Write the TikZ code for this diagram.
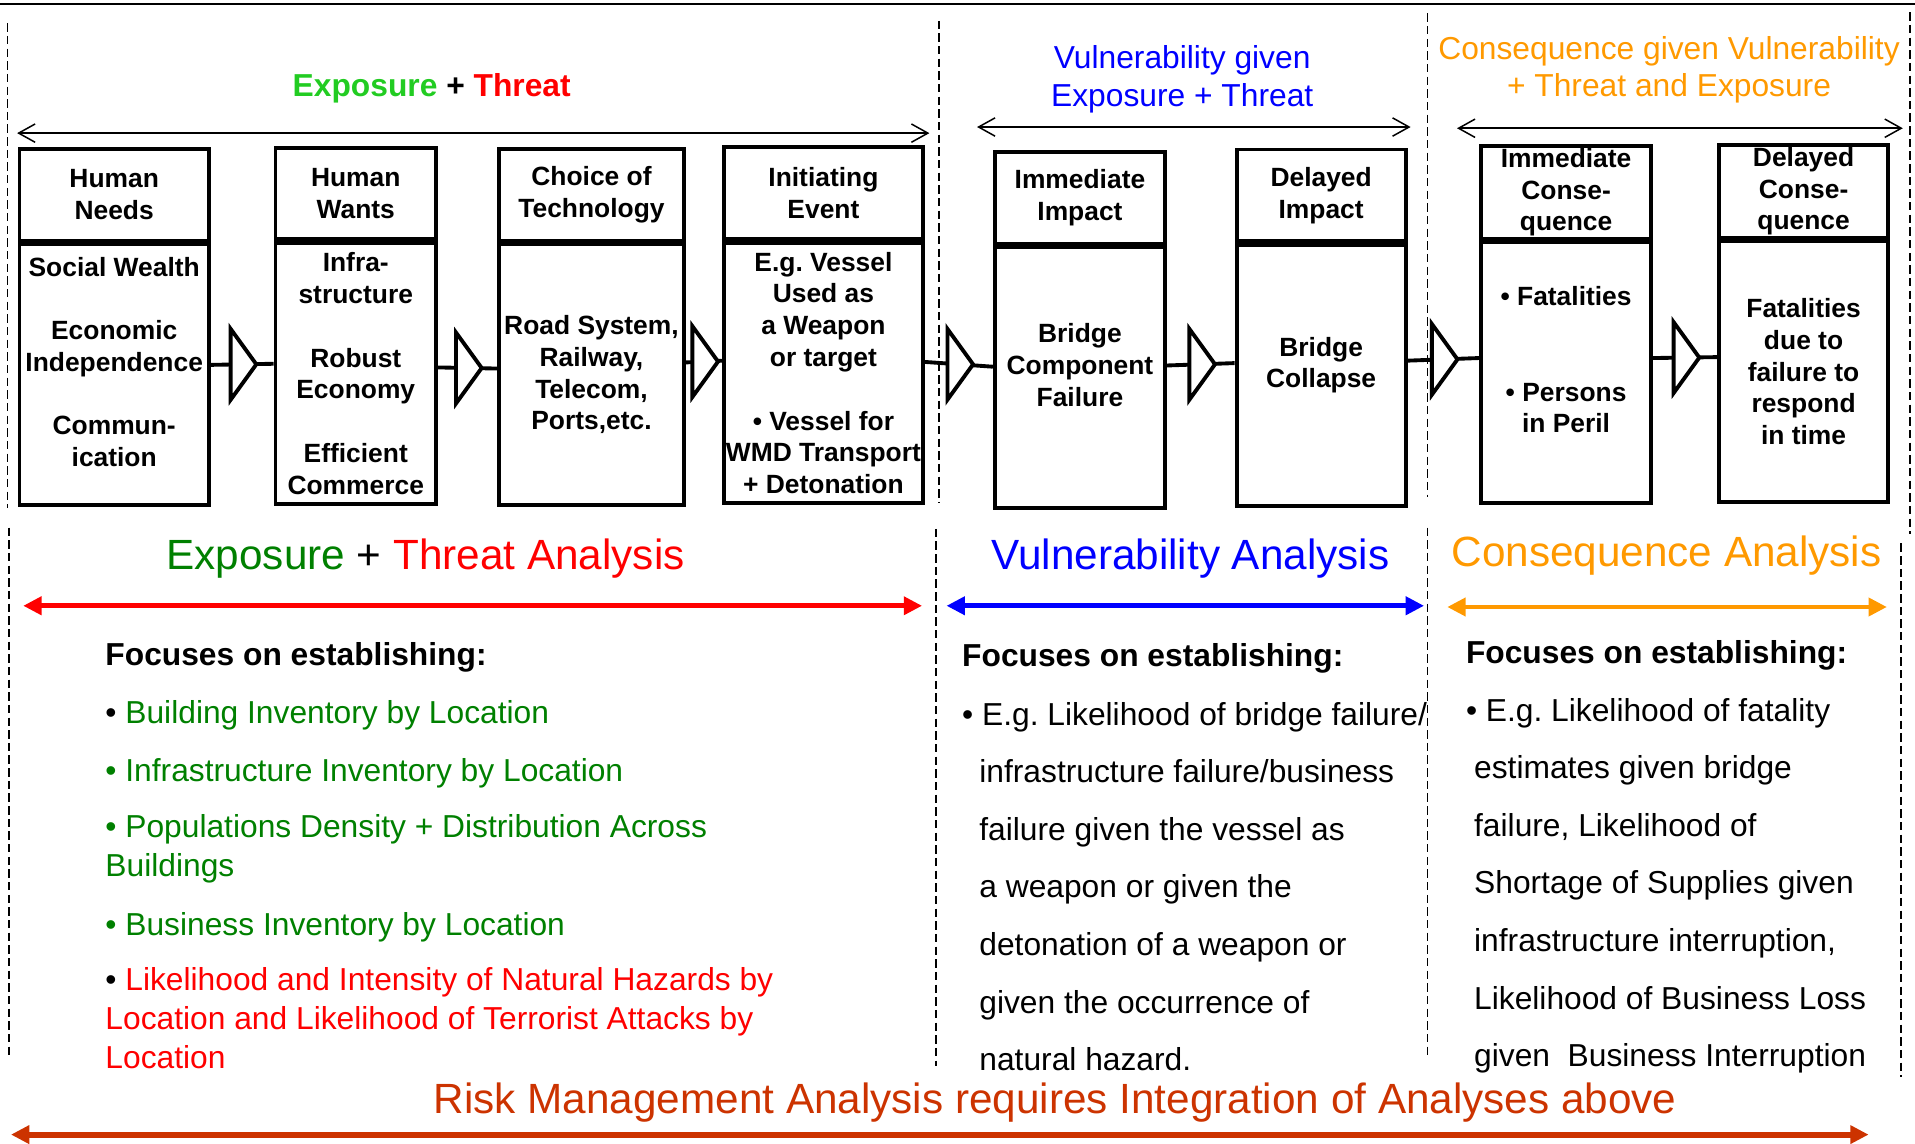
\documentclass[tikz,border=0pt]{standalone}
\usepackage{fontspec}
\setmainfont{Liberation Sans}
\usetikzlibrary{positioning,shapes.geometric,arrows.meta}

\definecolor{expgreen}{RGB}{34,204,34}
\definecolor{darkgreen}{RGB}{0,128,0}
\definecolor{thrred}{RGB}{255,0,0}
\definecolor{vulblue}{RGB}{0,0,255}
\definecolor{conorange}{RGB}{255,153,0}
\definecolor{riskred}{RGB}{204,51,0}

\tikzset{
	boxfont/.style={font=\fontsize{12.3}{14.8}\selectfont\bfseries},
	body/.style={draw=black, line width=1.8pt, boxfont, align=center, inner sep=1pt, minimum height=4.27cm},
	head/.style={draw=black, line width=1.8pt, boxfont, align=center, inner sep=1pt, minimum height=1.5cm},
	raised/.style={text depth=12pt},
	tri/.style={isosceles triangle, isosceles triangle stretches, draw=black, fill=white, line width=1.8pt, inner sep=0pt, minimum width=1.16cm, minimum height=0.42cm},
	link/.style={-, line width=1.8pt},
	divider/.style={dash pattern=on 3.9pt off 2pt, line width=0.7pt},
	span/.style={{Straight Barb[length=2.7mm,width=3mm]}-{Straight Barb[length=2.7mm,width=3mm]}, line width=0.7pt},
	bigspan/.style={{Triangle[length=3mm,width=2.9mm]}-{Triangle[length=3mm,width=2.9mm]}, line width=2.3pt},
	title/.style={font=\fontsize{14.8}{17.8}\selectfont, align=center, anchor=base},
	bigtitle/.style={font=\fontsize{19.7}{23}\selectfont, anchor=base},
	notes/.style={font=\fontsize{14.8}{18.2}\selectfont, align=left, anchor=base west, inner sep=0pt},
}

\begin{document}
\frenchspacing
\begin{tikzpicture}[x=0.02cm, y=-0.02cm]
	\useasboundingbox (0,0) rectangle (1568,936.7);
	
	% frame and column separators
	\draw[line width=1pt] (0,3) -- (1568,3);
	\draw[divider] (6,19) -- (6,416);
	\draw[divider] (7.5,432) -- (7.5,866);
	\draw[divider] (769,17) -- (769,412);
	\draw[divider] (766.5,433) -- (766.5,873);
	\draw[divider] (1169,11) -- (1169,407);
	\draw[divider] (1169,432) -- (1169,864);
	\draw[divider] (1564,10) -- (1564,437);
	\draw[divider] (1556.5,445) -- (1556.5,882);
	
	% top titles (multi-line nodes sit on their last baseline)
	\node[title, font=\fontsize{14.8}{17.8}\selectfont\bfseries] (expTop) at (353.5,79.2) {\textcolor{expgreen}{Exposure} + \textcolor{thrred}{Threat}};
	\node[title, text=vulblue, font=\fontsize{14.8}{17.8}\selectfont] (vulTop) at (968,87.3) {Vulnerability given\\Exposure + Threat};
	\node[title, text=conorange, font=\fontsize{14.8}{17.2}\selectfont] (conTop) at (1366.6,79.2) {Consequence given Vulnerability\\+ Threat and Exposure};
	
	\draw[span] (14,109) -- (761,109);
	\draw[span] (800,104) -- (1155,104);
	\draw[span] (1193,105) -- (1558,105);
	
	% boxes
	\node[body, raised, minimum width=3.1cm] (needsB) at (93.5,306.75) {Social Wealth\\ \\Economic\\Independence\\ \\Commun-\\ication};
	\node[head, minimum width=3.1cm, above=0pt of needsB] (needsH) {Human\\Needs};
	
	\node[body, minimum width=2.63cm] (wantsB) at (291.3,305.85) {Infra-\\structure\\ \\Robust\\Economy\\ \\Efficient\\Commerce};
	\node[head, minimum width=2.63cm, above=0pt of wantsB] (wantsH) {Human\\Wants};
	
	\node[body, minimum width=3.03cm] (techB) at (484.3,306.75) {Road System,\\Railway,\\Telecom,\\Ports,etc.};
	\node[head, minimum width=3.03cm, above=0pt of techB] (techH) {Choice of\\Technology};
	
	\node[body, minimum width=3.26cm] (initB) at (674.2,305.35) {E.g. Vessel\\Used as\\a Weapon\\or target\\ \\\textbullet{} Vessel for\\WMD Transport\\+ Detonation};
	\node[head, minimum width=3.26cm, above=0pt of initB] (initH) {Initiating\\Event};
	
	\node[body, raised, minimum width=2.79cm] (immImpB) at (884.25,309.25) {Bridge\\Component\\Failure};
	\node[head, minimum width=2.79cm, above=0pt of immImpB] (immImpH) {Immediate\\Impact};
	
	\node[body, raised, minimum width=2.77cm] (delImpB) at (1081.75,307.3) {Bridge\\Collapse};
	\node[head, minimum width=2.77cm, above=0pt of delImpB] (delImpH) {Delayed\\Impact};
	
	\node[body, raised, minimum width=2.79cm] (immConB) at (1282.3,305.15) {\textbullet{} Fatalities\\ \\ \\\textbullet{} Persons\\in Peril};
	\node[head, minimum width=2.79cm, above=0pt of immConB] (immConH) {Immediate\\Conse-\\quence};
	
	\node[body, minimum width=2.77cm] (delConB) at (1476.75,304.4) {Fatalities\\due to\\failure to\\respond\\in time};
	\node[head, minimum width=2.77cm, above=0pt of delConB] (delConH) {Delayed\\Conse-\\quence};
	
	\path[link] ([yshift=1.6mm]needsB.east) edge node[tri, midway] {} ([yshift=1.6mm]wantsB.west);
	\path[link] ([yshift=1mm]wantsB.east) edge node[tri, midway] {} ([yshift=1mm]techB.west);
	\path[link] ([yshift=2mm]techB.east) edge node[tri, midway] {} ([yshift=2mm]initB.west);
	\path[link] ([yshift=1.8mm]initB.east) edge node[tri, midway] {} ([yshift=1.8mm]immImpB.west);
	\path[link] ([yshift=2mm]immImpB.east) edge node[tri, midway] {} ([yshift=2mm]delImpB.west);
	\path[link] ([yshift=2.4mm]delImpB.east) edge node[tri, midway] {} ([yshift=2.4mm]immConB.west);
	\path[link] ([yshift=2.4mm]immConB.east) edge node[tri, midway] {} ([yshift=2.4mm]delConB.west);
	
	% analysis titles
	\node[bigtitle] (expAna) at (348.5,466.7) {\textcolor{darkgreen}{Exposure} + \textcolor{thrred}{Threat Analysis}};
	\node[bigtitle, text=vulblue] (vulAna) at (974.7,466.7) {Vulnerability Analysis};
	\node[bigtitle, text=conorange] (conAna) at (1364.6,464) {Consequence Analysis};
	
	\draw[bigspan, thrred] (19,496) -- (755,496);
	\draw[bigspan, vulblue] (775,496) -- (1166,496);
	\draw[bigspan, conorange] (1185,497) -- (1545,497);
	
	% left column
	\node[notes, font=\fontsize{14.8}{18.2}\selectfont\bfseries] (expFocus) at (86,544.5) {Focuses on establishing:};
	\node[notes, text=darkgreen] (bldg) at (86,592.3) {{\color{black}\textbullet} Building Inventory by Location};
	\node[notes, text=darkgreen] (infra) at (86,640) {\textbullet{} Infrastructure Inventory by Location};
	\node[notes, text=darkgreen] (popl) at (86,717.8) {\textbullet{} Populations Density + Distribution Across\\Buildings};
	\node[notes, text=darkgreen] (busi) at (86,765.6) {\textbullet{} Business Inventory by Location};
	\node[notes, text=thrred] (hazd) at (86,874.6) {{\color{black}\textbullet} Likelihood and Intensity of Natural Hazards by\\Location and Likelihood of Terrorist Attacks by\\Location};
	
	% middle column
	\node[notes, font=\fontsize{14.8}{18.2}\selectfont\bfseries] (vulFocus) at (787.5,545.5) {Focuses on establishing:};
	\node[notes, font=\fontsize{14.8}{26.85}\selectfont] (vulText) at (787.5,876.7) {\textbullet{} E.g. Likelihood of bridge failure/\\
		\hspace*{8pt}infrastructure failure/business\\
		\hspace*{8pt}failure given the vessel as\\
		\hspace*{8pt}a weapon or given the\\
		\hspace*{8pt}detonation of a weapon or\\
		\hspace*{8pt}given the occurrence of\\
		\hspace*{8pt}natural hazard.};
	
	% right column
	\node[notes, font=\fontsize{14.8}{18.2}\selectfont\bfseries] (conFocus) at (1200,543) {Focuses on establishing:};
	\node[notes, font=\fontsize{14.8}{26.85}\selectfont] (conText) at (1200,873.4) {\textbullet{} E.g. Likelihood of fatality\\
		\hspace*{3.8pt}estimates given bridge\\
		\hspace*{3.8pt}failure, Likelihood of\\
		\hspace*{3.8pt}Shortage of Supplies given\\
		\hspace*{3.8pt}infrastructure interruption,\\
		\hspace*{3.8pt}Likelihood of Business Loss\\
		\hspace*{3.8pt}given\ \ Business Interruption};
	
	% bottom
	\node[bigtitle, text=riskred] (risk) at (864,912) {Risk Management Analysis requires Integration of Analyses above};
	\draw[bigspan, riskred, line width=2.8pt] (9,929) -- (1530,929);
	
\end{tikzpicture}
\end{document}
